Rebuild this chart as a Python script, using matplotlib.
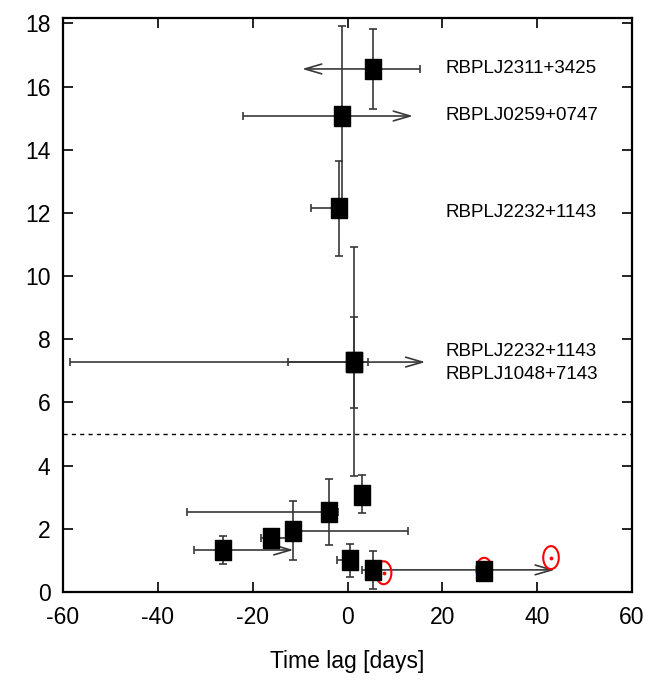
import numpy as np
import matplotlib
matplotlib.use('Agg')
import matplotlib.pyplot as plt
from matplotlib.path import Path

plt.rcParams['font.family'] = ['Liberation Sans', 'DejaVu Sans']
plt.rcParams['axes.unicode_minus'] = False

#---------------------- DATA
lag      = [5.3, -1.1, -1.7, 1.3, 1.3, -26.2, -16.1, -11.4, -4.0, 3.0, 0.6, 5.3, 28.8]
ratio    = [16.56, 15.07, 12.15, 7.28, 7.28, 1.33, 1.72, 1.94, 2.52, 3.08, 1.02, 0.70, 0.68]
lag_lo   = [-9.6, -22.1, -7.7, -58.5, -12.5, -32.3, -18.2, -12.9, -33.8, 3.0, -2.2, 3.0, 28.8]
lag_hi   = [15.3, 13.8, -1.7, 16.4, 4.4, -11.4, -13.0, 12.7, -2.1, 3.0, 0.6, 43.7, 28.8]
arrow_lo = [True, False, False, False, False, False, False, False, False, False, False, False, False]
arrow_hi = [False, True, False, True, False, True, False, False, False, False, False, True, False]
ratio_up = [1.28, 2.86, 1.49, 3.63, 1.44, 0.45, 0.0, 0.94, 1.06, 0.61, 0.50, 0.61, 0.0]
ratio_dn = [1.26, 2.70, 1.52, 3.62, 1.44, 0.44, 0.0, 0.92, 1.04, 0.58, 0.53, 0.61, 0.0]

# red open circles
circ_lag   = [7.6, 28.8, 42.9]
circ_ratio = [0.61, 0.72, 1.09]

names   = ["RBPLJ2311+3425", "RBPLJ0259+0747", "RBPLJ2232+1143", "RBPLJ2232+1143", "RBPLJ1048+7143"]
names_y = [16.57, 15.1, 12.0, 7.6, 6.9]
names_x = 20.6

threshold = 5.0

#------------------------PLOTTING
ecol = '#383838'
fig = plt.figure(figsize=(6.53, 6.84), dpi=100)
ax = fig.add_axes([0.0965, 0.1345, 0.8715, 0.8395])

lag_a = np.array(lag); ratio_a = np.array(ratio)
xl = np.where(arrow_lo, 0.0, lag_a - np.array(lag_lo))
xh = np.where(arrow_hi, 0.0, np.array(lag_hi) - lag_a)
ax.errorbar(lag_a, ratio_a, xerr=[xl, xh], yerr=[ratio_dn, ratio_up], fmt='none',
            ecolor=ecol, elinewidth=1.2, capsize=3, capthick=1.2, zorder=2)

# limits drawn as open arrows
for i in range(len(lag)):
    if arrow_lo[i]:
        ax.annotate('', xy=(lag_lo[i], ratio[i]), xytext=(lag[i], ratio[i]),
                    arrowprops=dict(arrowstyle='->,head_length=1.2,head_width=0.35',
                                    color=ecol, lw=1.2, shrinkA=0, shrinkB=0), zorder=2)
    if arrow_hi[i]:
        ax.annotate('', xy=(lag_hi[i], ratio[i]), xytext=(lag[i], ratio[i]),
                    arrowprops=dict(arrowstyle='->,head_length=1.2,head_width=0.35',
                                    color=ecol, lw=1.2, shrinkA=0, shrinkB=0), zorder=2)

t = np.linspace(0, 2*np.pi, 60)
ell = Path(np.column_stack([0.68*np.cos(t), np.sin(t)]))
ax.scatter(circ_lag, circ_ratio, s=272, marker=ell, facecolors='none', edgecolors='red',
           linewidths=1.5, zorder=3)
ax.scatter(circ_lag, circ_ratio, s=3, color='red', zorder=3)

rect = [(-0.76, -1), (0.76, -1), (0.76, 1), (-0.76, 1), (-0.76, -1)]
ax.plot(lag, ratio, linestyle='none', marker=rect, markersize=15, color='black', zorder=4)

ax.axhline(threshold, color='black', linestyle=(0, (3, 3)), linewidth=1.0, zorder=1)

for n, yy in zip(names, names_y):
    ax.text(names_x, yy, n, fontsize=13.5, va='center', ha='left')

ax.set_xlim(-60, 60)
ax.set_ylim(0, 18.18)
ax.set_xticks(np.arange(-60, 61, 20))
ax.set_yticks(np.arange(0, 19, 2))
ax.tick_params(direction='in', length=7, width=1.2, top=True, right=True, labelsize=16.5)
ax.tick_params(axis='x', pad=10)
ax.tick_params(axis='y', pad=9)
for s in ax.spines.values():
    s.set_linewidth(1.6)
ax.set_xlabel('Time lag [days]', fontsize=16.5, labelpad=15)

plt.savefig('out.png', dpi=100)
